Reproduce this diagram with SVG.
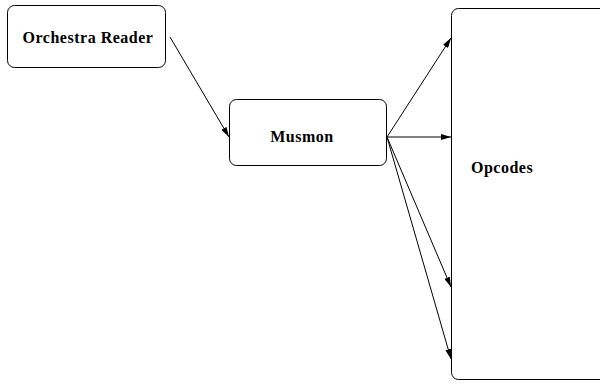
<svg xmlns="http://www.w3.org/2000/svg" width="600" height="384" viewBox="0 0 600 384">
<defs>
<marker id="ah" markerWidth="10" markerHeight="6" refX="10" refY="3" orient="auto" markerUnits="userSpaceOnUse">
<path d="M0,0 L10,3 L0,6 Z" fill="#000"/>
</marker>
<style>
.box{fill:#fff;stroke:#000;stroke-width:1}
.lbl{font-family:"Liberation Serif","Times New Roman",serif;font-weight:bold;font-size:16px;letter-spacing:0.5px;fill:#000}
.edge{stroke:#000;stroke-width:1;fill:none;marker-end:url(#ah)}
</style>
</defs>
<rect width="600" height="384" fill="#fff"/>
<g id="orchestra-reader">
<rect class="box" x="7.5" y="5.5" width="158" height="62" rx="7"/>
<text class="lbl" x="88" y="43" text-anchor="middle">Orchestra Reader</text>
</g>
<g id="musmon">
<rect class="box" x="229.5" y="99.5" width="157" height="66" rx="7"/>
<text class="lbl" x="302" y="142" text-anchor="middle">Musmon</text>
</g>
<g id="opcodes">
<rect class="box" x="451.5" y="8.5" width="160" height="371" rx="7"/>
<text class="lbl" x="471" y="173">Opcodes</text>
</g>
<g id="connectors">
<line class="edge" x1="170" y1="37" x2="229" y2="137"/>
<line class="edge" x1="387" y1="137" x2="451" y2="38"/>
<line class="edge" x1="387" y1="137" x2="451" y2="137"/>
<line class="edge" x1="387" y1="137" x2="451" y2="287"/>
<line class="edge" x1="387" y1="137" x2="451" y2="359"/>
</g>
</svg>
